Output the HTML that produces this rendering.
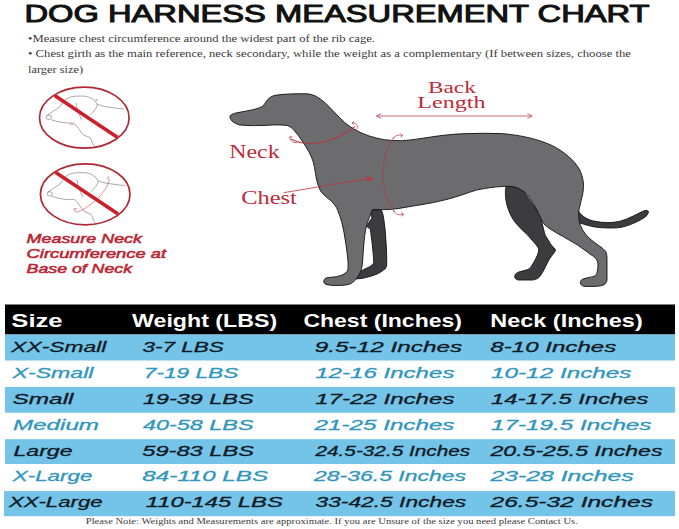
<!DOCTYPE html>
<html><head><meta charset="utf-8">
<style>
html,body{margin:0;padding:0;background:#fff;}
body{width:679px;height:529px;overflow:hidden;font-family:"Liberation Sans",sans-serif;}
svg{display:block}
.t{font-family:"Liberation Sans",sans-serif;}
.s{font-family:"Liberation Serif",serif;}
.hd{font-family:"Liberation Sans",sans-serif;font-weight:bold;fill:#fff;font-size:19px}
.r{font-family:"Liberation Sans",sans-serif;font-style:italic;font-size:14.9px;stroke-width:0.3}
.k{fill:#0e1a24;stroke:#0e1a24}
.b{fill:#3096bd;stroke:#3096bd}
</style></head><body>
<svg width="679" height="529" viewBox="0 0 679 529">
<rect width="679" height="529" fill="#fff"/>
<!-- title -->
<text class="t" x="24.5" y="22.2" font-size="24" textLength="625" lengthAdjust="spacingAndGlyphs" fill="#111" stroke="#111" stroke-width="1">DOG HARNESS MEASUREMENT CHART</text>
<!-- bullets -->
<g class="s" font-size="9.8" fill="#3a3a3a">
<text x="28" y="41.5" textLength="347" lengthAdjust="spacingAndGlyphs">•Measure chest circumference around the widest part of the rib cage.</text>
<text x="28" y="57" textLength="603" lengthAdjust="spacingAndGlyphs">• Chest girth as the main reference, neck secondary, while the weight as a complementary (If between sizes, choose the</text>
<text x="28" y="72.5" textLength="55" lengthAdjust="spacingAndGlyphs">larger size)</text>
</g>
<!-- no symbols -->
<g id="nosym">
<g id="hd1" fill="none" stroke="#555" stroke-width="0.5">
<ellipse cx="48.8" cy="117.3" rx="2.6" ry="2.2"/>
<path d="M47,115.5 C52,112 56,109.5 60,106.7 C61.5,104 63,102 64.8,100 C68,97.5 71.5,96.4 75.4,96.2 C78.5,96 82,95.9 85,96.2 C88.5,96.8 91,97.8 93.2,99.4 C95,101 96.3,102.5 97.2,104.3 C100,105.3 103,106.2 106,106.7 C112,107.6 118,108.4 124,109"/>
<path d="M51,119.7 C56,121.5 62,122.6 67.3,123 C69.5,123.1 71.5,123.1 73.7,123 C75.5,124.8 77,126.6 78.6,128.6 C80,131 81.7,133.2 83.5,135 C85.5,136.2 88,136.6 90,137.5 C91.3,139.8 92.3,142.3 93.2,144.8 L94.8,147.2"/>
<path d="M76,102.7 C76.3,105 76.8,107.5 77.6,110 C78.8,113.5 80.3,117 81.8,120.5"/>
<path d="M97.2,104.3 C97,106.5 96.2,108.3 94.8,110 C93.4,111.8 91.8,113.4 90,114.8"/>
</g>
<use href="#hd1" x="0.9" y="76.6"/>
<path d="M70,125.5 l1.5,-2 l2,1.5 M95,100.5 l1.5,-1.5 l0.6,2" fill="none" stroke="#c8222c" stroke-width="0.5"/>
<path d="M109.4,179.3 C108.5,184 106.5,188 103,192.3 C100,196.5 96,200.3 91.6,203.6 C87.5,206.8 83,209.6 78.6,211.7 C77,212.3 75.5,211.8 74.5,210.9 M74.5,210.9 l0.3,-2.5 l2.3,0.6 M109.4,179.3 l-2,-1.3 l1.3,-1.8" fill="none" stroke="#c8222c" stroke-width="0.5"/>
<ellipse cx="84.3" cy="117.7" rx="44.8" ry="30.5" fill="none" stroke="#b02833" stroke-width="1.7"/>
<line x1="54.6" y1="95.5" x2="117.3" y2="137.3" stroke="#cc1f2b" stroke-width="3.6"/>
<ellipse cx="85.2" cy="194.3" rx="44.8" ry="30.5" fill="none" stroke="#b02833" stroke-width="1.7"/>
<line x1="55.4" y1="172.2" x2="118.1" y2="213.9" stroke="#cc1f2b" stroke-width="3.6"/>
</g>
<!-- red caption -->
<g class="t" font-style="italic" font-size="13.7" fill="#bb2431" stroke="#bb2431" stroke-width="0.55">
<text x="26.6" y="243.4" textLength="115.4" lengthAdjust="spacingAndGlyphs">Measure Neck</text>
<text x="26.6" y="258" textLength="139.4" lengthAdjust="spacingAndGlyphs">Circumference at</text>
<text x="26.6" y="272.8" textLength="105.4" lengthAdjust="spacingAndGlyphs">Base of Neck</text>
</g>
<!-- dog -->
<g id="dog" stroke="#111" stroke-width="0.9" stroke-linejoin="round">
<!-- far rear leg -->
<path fill="#3c3c3e" d="M506.3,186.3 C505.3,189 505.2,192 505.5,195 C505.6,198.5 506.2,202 507,205 C508,209 509.5,213 511.3,216.3 C513,219.5 515,222.5 517.5,225 C520.5,228.5 524,231.8 527.6,235 C530.5,238.3 533.5,241.7 536.3,245 C537.5,246.5 538.5,248.2 538.8,250 C538.5,252.6 537.5,255.2 536.3,257.6 C534.8,260.7 533.2,263.7 531.3,266.4 C530.3,267.8 529,269 527.6,269.6 C524.7,270.6 521.7,271.2 518.8,272 C517,272.6 515.6,273.7 515,275 C514.6,276 514.6,277 515,278 C515.8,279.3 517.2,280 518.8,280 L532.6,280 C535,279.7 537.2,278.9 538.8,277.6 C540.8,275.3 542.4,272.7 543.8,270 C545.5,266.7 547.1,263.3 548.8,260 C550.5,257.2 552.6,254.6 554.6,252 C555.1,251.2 555.5,250.4 555.6,249.6 L551.3,245 L545,235 L540,215 L520,186 Z"/>
<!-- far front leg -->
<path fill="#3c3c3e" d="M372.6,209.5 L381.7,210.6 C383,214 383.6,217 384,220.8 C385,227 385.5,233 385.8,239 C386.3,245 386.6,251 386.7,257 L386.7,265 C386.3,267.5 385.5,268.8 384,269.6 C382,271.5 379.5,273 377,274 C373.5,275.5 369.5,276.7 365.8,277.5 C363.5,278.2 361,278.6 359,278.7 L352,279 L356,272 C358,271.5 360,271 361.7,270.7 C363,269.8 364.5,269 365.8,268.5 C368,267.5 370.5,266.5 372,265 C373.2,264 373.6,263 373.7,261.7 C373.5,257 373,252 372.6,248 C372,241 371,235 370.3,228.8 C369,228.3 367.5,227.5 367,226.5 C367.5,225 368.3,223.5 369.2,222 C370.2,220.5 371.3,219 372,217.4 C371.5,216 370.8,215 370.3,214 Z"/>
<!-- tail -->
<path fill="#3c3c3e" d="M577,210 C580,213.5 582.5,215.8 585,217.6 C588,219.5 591.5,220.7 595,221.3 C599,222.2 603.5,222.6 607.7,222.6 C612,222.6 616,222.2 620,221.3 C624.5,220 628.7,218.3 632.7,216.3 C636.2,214.7 639.5,213 642.7,211.3 C644.2,210.6 645.8,210.3 647.2,210.6 C648.6,211 648.9,212 648.2,213 C647.6,214.5 646.5,215.8 645.2,217 C642,219.2 638.6,221 635,222.6 C631,224.5 627,226 622.7,227 C618.5,227.8 614.3,228.1 610,228 C605,228 600,227.7 595,227 C592,226.5 589.2,225.8 586.4,225 C584.2,224.4 582,223.7 580,223 L576,222 Z"/>
<!-- body -->
<path fill="#6c6c6e" d="M230,115.8 C231.5,114.2 233.8,113.5 236,113 C240,112 244.8,111.4 249,110.5 C253.5,109.6 258.5,108.5 262.4,106.5 C264,105 265.2,103 266.4,101.2 C267.8,99.2 269.5,97.5 271.7,96.4 C274.5,95.3 277.8,94.9 281,94.6 C286,94.1 291.7,93.8 297,93.8 L307.5,93.8 C310.3,94.1 313,94.8 315.4,96 C318.8,97.7 321.9,100 324.7,102.5 C328,105.4 331,108.7 334,111.8 C337.4,115.4 340.9,119.1 344.6,122.4 C347.9,125.2 351.5,127.7 355.2,129.8 C359.4,132.2 363.9,134.2 368.5,135.7 C373.6,137.5 379,138.8 384.4,139.7 C390.3,140.5 396.4,140.8 402.4,140.7 C412,140 421,138.5 430.7,137 C442,135.3 454,134 466,133.6 C478,133.2 490,133.2 501.4,133.6 C511,134.3 520.5,135.7 529.7,137.9 C537,139.7 544.3,142 550.9,145 C557.3,148 563.4,151.9 568.6,156.6 C572.8,160.2 576.5,164.3 579.2,169 C581.5,173.3 582.9,178.1 583.4,183 C583.7,187.7 583.2,192.4 582,197 C581,201.2 579.9,205.4 579,209.6 C578.6,213 578.6,216.5 579,220 C579.7,223.6 580.9,227.1 582.6,230 C584.7,233.4 587.3,236.4 590,239 C593.2,241.7 596.7,244.1 600,246.4 C602.1,247.9 604.2,249.4 605.7,251.4 C606.6,253.3 606.9,255.5 607,257.6 L607,280 C606.8,282 605.8,283.7 604,284.7 C601.2,285.9 598,286.3 595,286.4 L585,286.4 C583,286.3 581.3,285.5 580.6,284 C580.2,282.5 580.4,281 581.4,280 C582.8,278.9 584.6,278.4 586.4,278 C589,277.5 591.6,277.1 594,276.4 C595.5,275.6 596.5,274.3 597,272.7 C597.8,269.9 598.1,266.9 598,264 C597.8,262.2 597.3,260.5 596.4,259 C594.6,257 592.3,255.5 590,254 C585.9,251 581.7,248 577.6,245 C572.7,242 567.6,239.2 562.6,236.3 C558.3,234 554.1,231.5 550,228.8 C547.7,227.4 545.6,225.8 543.8,223.8 C541.7,220.7 540.3,217.2 538.8,213.8 C537,209.9 534.9,206.1 532.6,202.5 C531.1,199.9 529.5,197.3 527.6,195 C525.7,193 523.6,191.3 521.3,190 C519.3,188.7 517.2,187.7 515,187 C511.7,186.4 508.3,186.2 505,186.3 C499.5,186.6 494,187 489,187.8 C484.8,188.5 480.7,189.2 476.6,190 C467,193 458,196.5 448.4,199 C437,202 425,204.3 413,206 C404,207.6 394,209.6 384.7,209.6 L372.6,209.5 C371,213.5 369.5,217 367,224 C365.5,229 364.5,236 363.5,248 C363,255 362.8,260 362.4,264 C361.8,268 361,271 360,273 C358.5,276 357,278 355.6,279.8 C353.5,282 351.5,283.5 348.8,284.4 C345,285.3 340,285.5 336.3,285.5 C332,285.5 329,285.2 326,284.4 C324.5,283.8 323.6,282.5 323.8,281 C324,279.5 324.8,278.5 326,278 C329,277.3 331.5,277.2 334,277 C338,276.5 341.5,275.5 344,274 C346.5,272.5 347.8,271 348,268.5 C348.3,265 348,261 347.6,257 C347,252 346.3,246 345.4,241 C344.5,235 343.5,229 342,223 C340.8,218.5 339.3,214 337.4,209.5 C336,206.5 334,204 331.3,201 C327.5,198 323.5,195 320.7,191.3 C319,188 317.8,184.5 316.8,180.7 C316.2,178 315.8,175.4 315.4,172.8 C314.9,169.2 314.2,165.7 313.3,162.2 C312.2,158.5 310.6,155 308.8,151.6 C306.8,148 304.5,144.5 302.2,141 C299.8,137.3 297.2,133.7 294.2,130.4 C292.4,128.4 290.2,126.6 287.6,125.6 C283,124.8 278,124.8 273,125 C267,125.3 260.7,125.7 254.5,125.6 C249.6,125.6 244.7,125.6 240,125 C237.2,124.3 234,123 232,121 C230.5,119.5 229.7,117.5 230,115.8 Z"/>
</g>
<!-- red annotations -->
<g id="ann" fill="none" stroke="#b8343e" stroke-width="0.8" opacity="0.9">
<path d="M291,138.9 C297,142 303.5,143.4 310,143.6 C317.3,143.7 324.5,142.2 331.3,139.7 C337,137.6 342.4,135 347.3,131.7 C350.2,130.2 352.8,128.4 355.2,126.4" stroke-width="1.1"/>
<path d="M290.5,136.5 C289.5,138.8 290.8,141.4 293.5,142.3 L297,142.6 M290.5,136.5 l-1.6,1.5 M290.5,136.5 l2,0.6"/>
<path d="M352,123 C354.5,122.4 356.5,123.8 357.4,126 C357.6,128 356.5,129.5 355,130 M352,123 l1.8,-1.4 M352,123 l1.6,1.8"/>
<path d="M283.6,192.7 C294,191 305,189.2 315.4,187.4 C333,184.4 351,181.5 368,179" stroke-width="0.9"/>
<path d="M372.6,178.6 L367.2,176.4 L368,181.2 Z" fill="#c5303c"/>
<path d="M394.5,137 C389.5,142.5 387,148.5 385.5,154.8 C383.8,161.8 383,168.9 383,176 C383.1,183 384.2,190.2 386.5,197 C388.5,202.7 391.5,208.3 395.3,213" stroke-width="1.1" stroke-dasharray="3 1.3"/>
<path d="M394.5,137 C396.5,135 399.5,134.4 402.5,135.5 M402.5,135.5 l-2.3,-1.6 M402.5,135.5 l-1.8,2"/>
<path d="M395.3,213 C397.5,214.8 400.5,215.3 403.5,214.2 M403.5,214.2 l-2.4,-1.5 M403.5,214.2 l-1.6,2.2"/>
<line x1="377" y1="116" x2="531.5" y2="116"/>
<path d="M381.2,113.6 L376.4,116 L381.2,118.4 M527.3,113.6 L532.1,116 L527.3,118.4"/>
</g>
<g class="s" fill="#bd2a38">
<text x="229.3" y="157.7" font-size="18.3" textLength="50.3" lengthAdjust="spacingAndGlyphs">Neck</text>
<text x="241.2" y="204" font-size="18.5" textLength="55.7" lengthAdjust="spacingAndGlyphs">Chest</text>
<text x="427.9" y="93" font-size="16.5" textLength="48" lengthAdjust="spacingAndGlyphs">Back</text>
<text x="417.3" y="108.2" font-size="16.5" textLength="68.2" lengthAdjust="spacingAndGlyphs">Length</text>
</g>
<!-- table -->
<rect x="5" y="304.5" width="670" height="30" fill="#000"/>
<rect x="5" y="334.5" width="670" height="26" fill="#74c4ea"/>
<rect x="5" y="387" width="670" height="25.7" fill="#74c4ea"/>
<rect x="5" y="439.2" width="670" height="24.8" fill="#74c4ea"/>
<rect x="4" y="491.1" width="671" height="25.1" fill="#74c4ea"/>
<g class="hd">
<text x="11.3" y="326.8" textLength="51.3" lengthAdjust="spacingAndGlyphs">Size</text>
<text x="132" y="326.8" textLength="145.2" lengthAdjust="spacingAndGlyphs">Weight (LBS)</text>
<text x="303.4" y="326.8" textLength="158.6" lengthAdjust="spacingAndGlyphs">Chest (Inches)</text>
<text x="490.3" y="326.8" textLength="152.4" lengthAdjust="spacingAndGlyphs">Neck (Inches)</text>
</g>
<g class="r k">
<text x="11.3" y="352" textLength="95" lengthAdjust="spacingAndGlyphs">XX-Small</text>
<text x="142.5" y="352" textLength="81.4" lengthAdjust="spacingAndGlyphs">3-7 LBS</text>
<text x="314.8" y="352" textLength="147.4" lengthAdjust="spacingAndGlyphs">9.5-12 Inches</text>
<text x="490.3" y="352" textLength="126" lengthAdjust="spacingAndGlyphs">8-10 Inches</text>
</g>
<g class="r b">
<text x="12.5" y="378" textLength="81" lengthAdjust="spacingAndGlyphs">X-Small</text>
<text x="143.8" y="378" textLength="94.6" lengthAdjust="spacingAndGlyphs">7-19 LBS</text>
<text x="315.2" y="378" textLength="139.3" lengthAdjust="spacingAndGlyphs">12-16 Inches</text>
<text x="491" y="378" textLength="140.5" lengthAdjust="spacingAndGlyphs">10-12 Inches</text>
</g>
<g class="r k">
<text x="12.5" y="404" textLength="61" lengthAdjust="spacingAndGlyphs">Small</text>
<text x="143" y="404" textLength="110.5" lengthAdjust="spacingAndGlyphs">19-39 LBS</text>
<text x="315.2" y="404" textLength="139.3" lengthAdjust="spacingAndGlyphs">17-22 Inches</text>
<text x="491" y="404" textLength="157.5" lengthAdjust="spacingAndGlyphs">14-17.5 Inches</text>
</g>
<g class="r b">
<text x="13" y="430.2" textLength="86" lengthAdjust="spacingAndGlyphs">Medium</text>
<text x="143" y="430.2" textLength="110.5" lengthAdjust="spacingAndGlyphs">40-58 LBS</text>
<text x="314.6" y="430.2" textLength="139.9" lengthAdjust="spacingAndGlyphs">21-25 Inches</text>
<text x="491" y="430.2" textLength="160.5" lengthAdjust="spacingAndGlyphs">17-19.5 Inches</text>
</g>
<g class="r k">
<text x="13.4" y="455.5" textLength="59.2" lengthAdjust="spacingAndGlyphs">Large</text>
<text x="142.3" y="455.5" textLength="111.7" lengthAdjust="spacingAndGlyphs">59-83 LBS</text>
<text x="315.5" y="455.5" font-size="13.8" textLength="154.7" lengthAdjust="spacingAndGlyphs">24.5-32.5 Inches</text>
<text x="490.5" y="455.5" font-size="14.2" textLength="172" lengthAdjust="spacingAndGlyphs">20.5-25.5 Inches</text>
</g>
<g class="r b">
<text x="12.8" y="481.2" textLength="79.6" lengthAdjust="spacingAndGlyphs">X-Large</text>
<text x="142.3" y="481.2" textLength="125.7" lengthAdjust="spacingAndGlyphs">84-110 LBS</text>
<text x="314" y="481.2" textLength="152" lengthAdjust="spacingAndGlyphs">28-36.5 Inches</text>
<text x="490.5" y="481.2" textLength="143.2" lengthAdjust="spacingAndGlyphs">23-28 Inches</text>
</g>
<g class="r k">
<text x="8.9" y="507.2" textLength="93.7" lengthAdjust="spacingAndGlyphs">XX-Large</text>
<text x="145.8" y="507.2" textLength="137" lengthAdjust="spacingAndGlyphs">110-145 LBS</text>
<text x="315.5" y="507.2" textLength="150.7" lengthAdjust="spacingAndGlyphs">33-42.5 Inches</text>
<text x="490.5" y="507.2" textLength="162.5" lengthAdjust="spacingAndGlyphs">26.5-32 Inches</text>
</g>
<text class="s" x="85.8" y="523.7" font-size="8.6" fill="#3a3a3a" textLength="492" lengthAdjust="spacingAndGlyphs">Please Note: Weights and Measurements are approximate. If you are Unsure of the size you need please Contact Us.</text>
</svg>
</body></html>
